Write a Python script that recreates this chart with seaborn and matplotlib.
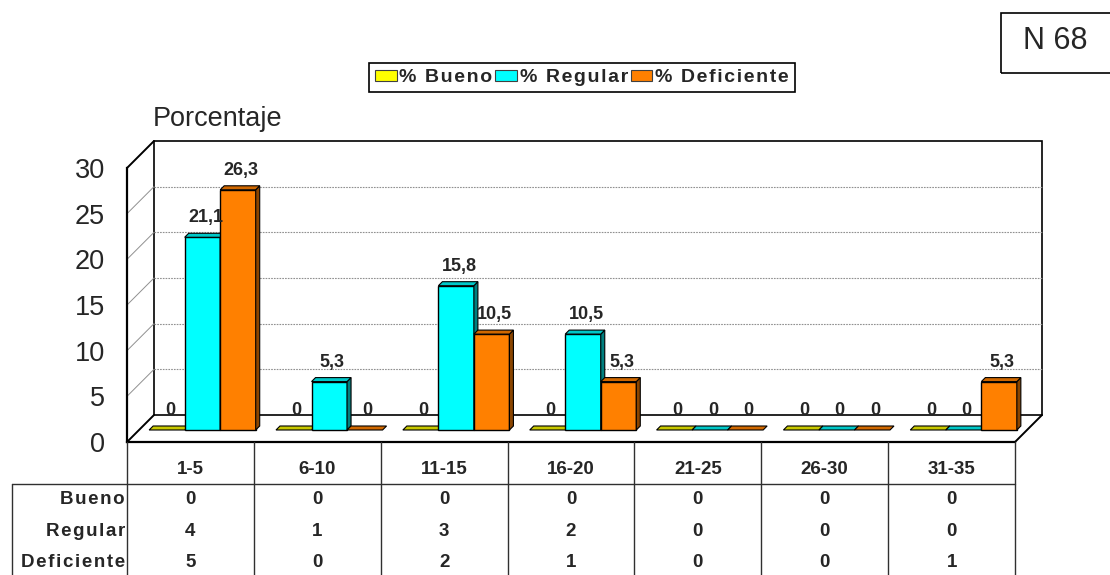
"""Porcentaje por rango: gráfico de barras 3D estilo Excel con tabla de datos."""
import matplotlib
matplotlib.use("Agg")
import pandas as pd
import matplotlib.pyplot as plt
import seaborn as sns
from matplotlib.patches import Polygon, Rectangle, Patch

RANGOS = ["1-5", "6-10", "11-15", "16-20", "21-25", "26-30", "31-35"]
SERIES = ["% Bueno", "% Regular", "% Deficiente"]
PCT_BUENO = [0, 0, 0, 0, 0, 0, 0]
PCT_REGULAR = [21.1, 5.3, 15.8, 10.5, 0, 0, 0]
PCT_DEFICIENTE = [26.3, 0, 10.5, 5.3, 0, 0, 5.3]
FILAS = ["Bueno", "Regular", "Deficiente"]
N_BUENO = [0, 0, 0, 0, 0, 0, 0]
N_REGULAR = [4, 1, 3, 2, 0, 0, 0]
N_DEFICIENTE = [5, 0, 2, 1, 0, 0, 1]
Y_TICKS = [0, 5, 10, 15, 20, 25, 30]

FRONT = ["#FFFF00", "#00FFFF", "#FF8000"]
TOP = ["#C8C800", "#00C8C8", "#D06800"]
SIDE = ["#808000", "#008080", "#8A4500"]

W, H = 1110, 575
# front plane of the plot, in pixels
AX_L, AX_R, AX_B, AX_T = 127, 1015, 442, 168
PXX = (AX_R - AX_L) / len(RANGOS)
PXY = (AX_B - AX_T) / 30
WALL, PLANE, THICK = 27, 12, 4


def dep(d):
    return d / PXX, d / PXY


def fmt(v):
    return "0" if v == 0 else f"{v:.1f}".replace(".", ",")


def spaced(s):
    return "\u200a".join(s)


sns.set_style("white")
plt.rcParams["font.family"] = ["Liberation Sans", "DejaVu Sans"]

fig = plt.figure(figsize=(W / 100, H / 100), dpi=100)
ax = fig.add_axes([AX_L / W, 1 - AX_B / H, (AX_R - AX_L) / W, (AX_B - AX_T) / H])

pct = {SERIES[0]: PCT_BUENO, SERIES[1]: PCT_REGULAR, SERIES[2]: PCT_DEFICIENTE}
df = pd.DataFrame([{"rango": r, "serie": s, "valor": pct[s][i]}
                   for s in SERIES for i, r in enumerate(RANGOS)])
sns.barplot(data=df, x="rango", y="valor", hue="serie", order=RANGOS,
            hue_order=SERIES, palette=FRONT, saturation=1, width=0.84,
            edgecolor="black", linewidth=1, errorbar=None, legend=False, ax=ax)
bars = sorted(ax.patches, key=lambda p: p.get_x())
ax.set_xlim(-0.5, len(RANGOS) - 0.5)
ax.set_ylim(0, 30)
ax.set_xticks([])
ax.set_xlabel("")
ax.set_ylabel("")
ax.set_yticks(Y_TICKS)
ax.tick_params(axis="y", length=0, pad=16, labelsize=19.5)
sns.despine(ax=ax)
for side in ["left", "bottom"]:
    ax.spines[side].set_color("black")
    ax.spines[side].set_linewidth(1.6)
    ax.spines[side].set_zorder(0.9)

# walls and floor
wx, wy = dep(WALL)
x_lo, x_hi = -0.5, len(RANGOS) - 0.5
ax.add_patch(Rectangle((x_lo + wx, wy), x_hi - x_lo, 30, facecolor="white",
                       edgecolor="black", linewidth=1.2, zorder=0.5, clip_on=False))
for v in Y_TICKS[1:-1]:
    ax.plot([x_lo + wx, x_hi + wx], [v + wy, v + wy], color="#909090",
            linewidth=0.8, linestyle=(0, (1.5, 1)), zorder=0.7, clip_on=False)
    ax.plot([x_lo, x_lo + wx], [v, v + wy], color="#909090", linewidth=0.7,
            zorder=0.7, clip_on=False)
for x0, y0 in [(x_lo, 30), (x_lo, 0), (x_hi, 0)]:
    ax.plot([x0, x0 + wx], [y0, y0 + wy], color="black", linewidth=1.4,
            zorder=0.8, clip_on=False)

# 3D bars
px, py = dep(PLANE)
tx, ty = dep(THICK)
front_rgb = [matplotlib.colors.to_rgb(c) for c in FRONT]
for n, p in enumerate(bars):
    rgb = p.get_facecolor()[:3]
    k = min(range(3), key=lambda j: sum((a - b) ** 2 for a, b in zip(rgb, front_rgb[j])))
    w = p.get_width()
    i = int(round(p.get_x() + w / 2))
    v = pct[SERIES[k]][i]
    x0 = p.get_x() + px
    y0 = py
    h = p.get_height()
    z = 3 + n * 0.1
    p.set_x(x0)
    p.set_y(y0)
    p.set_clip_on(False)
    p.set_zorder(z)
    if h == 0:
        p.set_visible(False)
    else:
        ax.add_patch(Polygon([(x0 + w, y0), (x0 + w + tx, y0 + ty),
                              (x0 + w + tx, y0 + h + ty), (x0 + w, y0 + h)],
                             facecolor=SIDE[k], edgecolor="black", linewidth=0.8,
                             zorder=z + 0.01, clip_on=False))
    ax.add_patch(Polygon([(x0, y0 + h), (x0 + w, y0 + h),
                          (x0 + w + tx, y0 + h + ty), (x0 + tx, y0 + h + ty)],
                         facecolor=TOP[k], edgecolor="black", linewidth=0.8,
                         zorder=z + 0.02, clip_on=False))
    ax.text(x0 + w / 2 + 3 / PXX, y0 + h + 15 / PXY, fmt(v), ha="center",
            va="baseline", fontsize=13, fontweight="bold", zorder=20)

# data table
ROW_H = 31.5
HEAD = 42 / ROW_H
n_rows = len(FILAS)
tax = fig.add_axes([AX_L / W, 1 - (AX_B + 42 + n_rows * ROW_H) / H,
                    (AX_R - AX_L) / W, (42 + n_rows * ROW_H) / H])
tax.set_xlim(x_lo, x_hi)
tax.set_ylim(HEAD + n_rows, 0)
tax.axis("off")
x_left = x_lo - (AX_L - 12) / PXX
line_kw = dict(color="#303030", linewidth=1, clip_on=False)
for j in range(len(RANGOS) + 1):
    tax.plot([x_lo + j, x_lo + j], [0, HEAD + n_rows], **line_kw)
tax.plot([x_left, x_hi], [HEAD, HEAD], **line_kw)
tax.plot([x_left, x_left], [HEAD, HEAD + n_rows], **line_kw)
tax.plot([x_left, x_hi], [HEAD + n_rows, HEAD + n_rows], **line_kw)
for i, r in enumerate(RANGOS):
    tax.text(i, 0.86, r, ha="center", va="center", fontsize=13.5, fontweight="bold")
counts = [N_BUENO, N_REGULAR, N_DEFICIENTE]
for r, (lab, vals) in enumerate(zip(FILAS, counts)):
    yc = HEAD + r + 0.5
    tax.text(x_lo - 2 / PXX, yc, spaced(lab), ha="right", va="center",
             fontsize=13.5, fontweight="bold")
    for i, v in enumerate(vals):
        tax.text(i, yc, str(v), ha="center", va="center", fontsize=13.5,
                 fontweight="bold")

# legend, axis title, N box
handles = [Patch(facecolor=c, edgecolor="#404040", linewidth=0.8) for c in FRONT]
leg = fig.legend(handles, [spaced(s) for s in SERIES], loc="center",
                 bbox_to_anchor=(582 / W, 1 - 77.5 / H), ncol=3, frameon=True,
                 fancybox=False, edgecolor="black", framealpha=1,
                 handlelength=1.1, handleheight=0.5, handletextpad=0.15,
                 columnspacing=0.15, borderpad=0.3, borderaxespad=0,
                 prop={"size": 14, "weight": "bold"})
leg.get_frame().set_linewidth(1.2)

fig.text(153 / W, 1 - 126 / H, "Porcentaje", fontsize=19.5, ha="left", va="baseline")
fig.add_artist(Rectangle((1001 / W, 1 - 73 / H), 120 / W, 60 / H,
                         transform=fig.transFigure, fill=False,
                         edgecolor="black", linewidth=1.2))
fig.text(1055 / W, 1 - 41 / H, "N 68", fontsize=22, ha="center", va="center")

fig.savefig("out.png", dpi=100)
